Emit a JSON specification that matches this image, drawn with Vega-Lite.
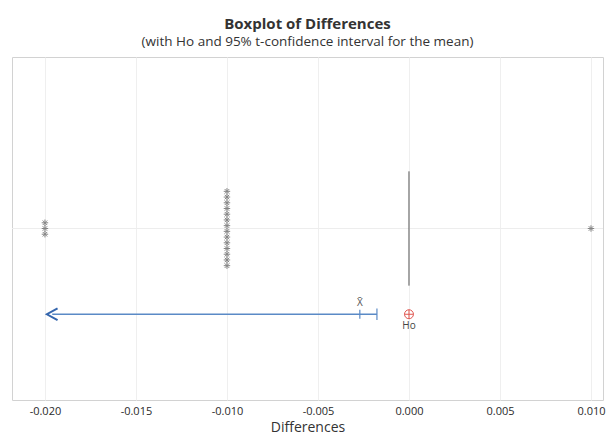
{
  "$schema": "https://vega.github.io/schema/vega-lite/v6.json",
  "width": 591,
  "height": 343,
  "autosize": {"type": "none"},
  "padding": {"left": 12, "top": 57, "right": 11, "bottom": 35},
  "background": "white",
  "config": {
    "font": "Open Sans",
    "view": {"stroke": "#d2d2d2", "strokeWidth": 1}
  },
  "title": {
    "text": "Boxplot of Differences",
    "subtitle": "(with Ho and 95% t-confidence interval for the mean)",
    "fontSize": 15,
    "fontWeight": "bold",
    "color": "#333333",
    "subtitleFontSize": 13.5,
    "subtitleColor": "#333333",
    "subtitlePadding": 3,
    "anchor": "middle",
    "offset": 9
  },
  "datasets": {
    "outliers": [
      {"Difference": -0.02}, {"Difference": -0.02}, {"Difference": -0.02},
      {"Difference": -0.01}, {"Difference": -0.01}, {"Difference": -0.01},
      {"Difference": -0.01}, {"Difference": -0.01}, {"Difference": -0.01},
      {"Difference": -0.01}, {"Difference": -0.01}, {"Difference": -0.01},
      {"Difference": -0.01}, {"Difference": -0.01}, {"Difference": -0.01},
      {"Difference": -0.01}, {"Difference": -0.01},
      {"Difference": 0.01}
    ],
    "summary": [
      {"q1": 0, "median": 0, "q3": 0, "mean": -0.0027, "ci_upper": -0.00176, "ci_lower_shown": -0.0196, "ho": 0}
    ]
  },
  "layer": [
    {
      "data": {"values": [{}]},
      "mark": {"type": "rule", "color": "#ededed", "strokeWidth": 1},
      "encoding": {
        "y": {"datum": 0, "type": "quantitative", "scale": {"domain": [-3, 3]}, "axis": null}
      }
    },
    {
      "data": {"name": "summary"},
      "mark": {"type": "rule", "color": "#555555", "strokeWidth": 1},
      "encoding": {
        "x": {
          "field": "median",
          "type": "quantitative",
          "title": "Differences",
          "scale": {"domain": [-0.02181, 0.01066], "nice": false, "zero": false},
          "axis": {
            "values": [-0.02, -0.015, -0.01, -0.005, 0, 0.005, 0.01],
            "labelExpr": "replace(format(datum.value, '.3f'), '\u2212', '-')",
            "grid": true,
            "gridColor": "#efefef",
            "domain": false,
            "ticks": false,
            "labelFontSize": 11,
            "labelFontWeight": 500,
            "labelColor": "#2a2a2a",
            "labelPadding": 5,
            "titleFontSize": 14,
            "titleFontWeight": "normal",
            "titleColor": "#333333",
            "titlePadding": 4
          }
        },
        "y": {"datum": -1, "type": "quantitative", "scale": {"domain": [-3, 3]}, "axis": null},
        "y2": {"datum": 1}
      }
    },
    {
      "data": {"name": "outliers"},
      "transform": [
        {"window": [{"op": "row_number", "as": "rank"}], "groupby": ["Difference"]},
        {"joinaggregate": [{"op": "count", "as": "n"}], "groupby": ["Difference"]},
        {"calculate": "(datum.rank - (datum.n + 1) / 2) * 0.1", "as": "stack"}
      ],
      "mark": {
        "type": "point",
        "shape": "M-1,0L1,0M0,-1L0,1M-0.7,-0.7L0.7,0.7M-0.7,0.7L0.7,-0.7",
        "filled": false,
        "size": 42,
        "stroke": "#858585",
        "strokeWidth": 1,
        "opacity": 1
      },
      "encoding": {
        "x": {"field": "Difference", "type": "quantitative", "title": "Differences"},
        "y": {"field": "stack", "type": "quantitative", "scale": {"domain": [-3, 3]}, "axis": null}
      }
    },
    {
      "data": {"name": "summary"},
      "mark": {"type": "rule", "color": "#5a8ac6", "strokeWidth": 1.5},
      "encoding": {
        "x": {"field": "ci_lower_shown", "type": "quantitative", "title": "Differences"},
        "x2": {"field": "ci_upper"},
        "y": {"datum": -1.5, "type": "quantitative", "scale": {"domain": [-3, 3]}, "axis": null}
      }
    },
    {
      "data": {"name": "summary"},
      "mark": {
        "type": "point",
        "shape": "M0.9,-1L-0.9,0L0.9,1",
        "filled": false,
        "size": 140,
        "stroke": "#3566ad",
        "strokeWidth": 2,
        "opacity": 1
      },
      "encoding": {
        "x": {"field": "ci_lower_shown", "type": "quantitative", "title": "Differences"},
        "y": {"datum": -1.5, "type": "quantitative", "scale": {"domain": [-3, 3]}, "axis": null}
      }
    },
    {
      "data": {"name": "summary"},
      "mark": {"type": "rule", "color": "#5a8ac6", "strokeWidth": 1.2},
      "encoding": {
        "x": {"field": "mean", "type": "quantitative", "title": "Differences"},
        "y": {"datum": -1.58, "type": "quantitative", "scale": {"domain": [-3, 3]}, "axis": null},
        "y2": {"datum": -1.42}
      }
    },
    {
      "data": {"name": "summary"},
      "mark": {"type": "rule", "color": "#5a8ac6", "strokeWidth": 1.2},
      "encoding": {
        "x": {"field": "ci_upper", "type": "quantitative", "title": "Differences"},
        "y": {"datum": -1.6, "type": "quantitative", "scale": {"domain": [-3, 3]}, "axis": null},
        "y2": {"datum": -1.4}
      }
    },
    {
      "data": {"name": "summary"},
      "mark": {"type": "text", "text": "X\u0304", "fontSize": 10, "color": "#555555", "baseline": "middle"},
      "encoding": {
        "x": {"field": "mean", "type": "quantitative", "title": "Differences"},
        "y": {"datum": -1.31, "type": "quantitative", "scale": {"domain": [-3, 3]}, "axis": null}
      }
    },
    {
      "data": {"name": "summary"},
      "mark": {
        "type": "point",
        "shape": "circle",
        "filled": false,
        "size": 80,
        "stroke": "#e0554f",
        "strokeWidth": 1,
        "opacity": 1
      },
      "encoding": {
        "x": {"field": "ho", "type": "quantitative", "title": "Differences"},
        "y": {"datum": -1.5, "type": "quantitative", "scale": {"domain": [-3, 3]}, "axis": null}
      }
    },
    {
      "data": {"name": "summary"},
      "mark": {
        "type": "point",
        "shape": "M-1,0L1,0M0,-1L0,1",
        "filled": false,
        "size": 80,
        "stroke": "#e0554f",
        "strokeWidth": 1,
        "opacity": 1
      },
      "encoding": {
        "x": {"field": "ho", "type": "quantitative", "title": "Differences"},
        "y": {"datum": -1.5, "type": "quantitative", "scale": {"domain": [-3, 3]}, "axis": null}
      }
    },
    {
      "data": {"name": "summary"},
      "mark": {"type": "text", "text": "Ho", "fontSize": 10, "color": "#444444", "baseline": "middle"},
      "encoding": {
        "x": {"field": "ho", "type": "quantitative", "title": "Differences"},
        "y": {"datum": -1.71, "type": "quantitative", "scale": {"domain": [-3, 3]}, "axis": null}
      }
    }
  ]
}
